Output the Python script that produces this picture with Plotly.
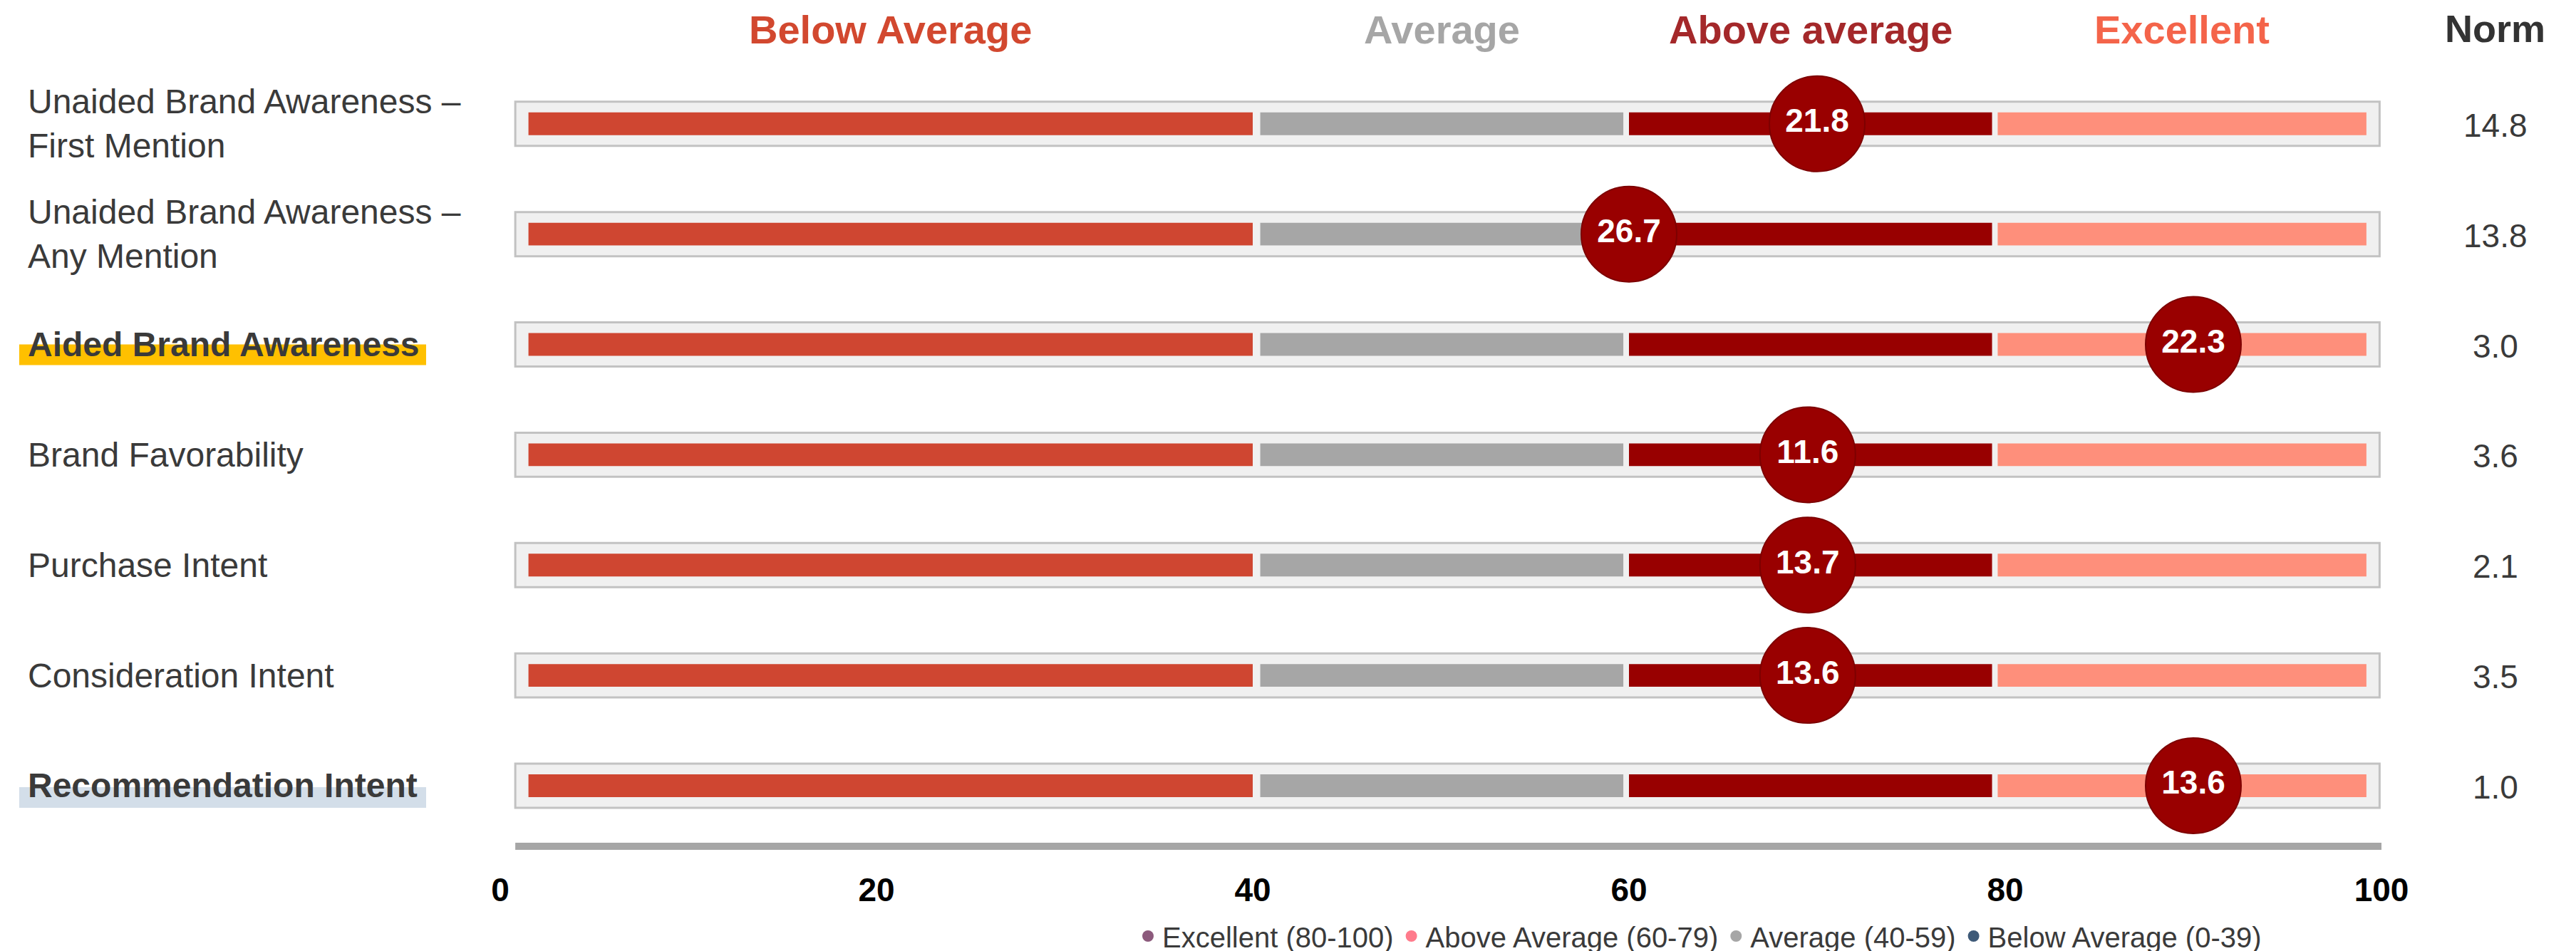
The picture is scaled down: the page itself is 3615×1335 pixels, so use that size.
import plotly.graph_objects as go

# ---------------- data ----------------
metrics = [
    "Unaided Brand Awareness –<br>First Mention",
    "Unaided Brand Awareness –<br>Any Mention",
    "<b>Aided Brand Awareness</b>",
    "Brand Favorability",
    "Purchase Intent",
    "Consideration Intent",
    "<b>Recommendation Intent</b>",
]
score_position = [70, 60, 90, 69.5, 69.5, 69.5, 90]      # position on 0-100 scale
score_label = ["21.8", "26.7", "22.3", "11.6", "13.7", "13.6", "13.6"]
norm_values = ["14.8", "13.8", "3.0", "3.6", "2.1", "3.5", "1.0"]

band_names = ["Below Average", "Average", "Above average", "Excellent"]
band_start = [1.5, 40.4, 60.0, 79.6]
band_end = [40.0, 59.7, 79.3, 99.2]
box_start, box_end = 0.8, 99.9

tick_values = [0, 20, 40, 60, 80, 100]

legend_names = ["Excellent (80-100)", "Above Average (60-79)", "Average (40-59)", "Below Average (0-39)"]

# ---------------- styles ----------------
FONT = "Liberation Sans, Arial, Helvetica, sans-serif"
band_colors = ["#cf4631", "#a6a6a6", "#980000", "#fe8f7b"]
header_colors = ["#d2482f", "#a6a6a6", "#a4282a", "#f4644a"]
legend_colors = ["#8c5a7c", "#ff7b8c", "#a6a6a6", "#3e5a78"]
bubble_color = "#990000"
text_dark = "#3a3a3a"

W, H = 3615, 1335
M = dict(l=694, r=281, t=52, b=155)
plot_h = H - M["t"] - M["b"]
top_of_figure = 1 + M["t"] / plot_h   # paper coordinate of the figure's top edge

rows = list(range(len(metrics)))
n = len(rows)

fig = go.Figure()

# background boxes
fig.add_trace(go.Bar(
    y=rows, x=[box_end - box_start] * n, base=[box_start] * n,
    orientation="h", width=0.40,
    marker=dict(color="#f0f0f0", line=dict(color="#c2c2c2", width=3)),
    showlegend=False, hoverinfo="skip", cliponaxis=False,
))

# colored band segments
for name, s, e, c in zip(band_names, band_start, band_end, band_colors):
    fig.add_trace(go.Bar(
        y=rows, x=[e - s] * n, base=[s] * n, orientation="h", width=0.206,
        marker=dict(color=c, line=dict(width=0)),
        showlegend=False, hoverinfo="skip", name=name, cliponaxis=False,
    ))

# bubbles
fig.add_trace(go.Scatter(
    x=score_position, y=rows, mode="markers+text",
    marker=dict(size=134, color=bubble_color, line=dict(color="#7d0000", width=2)),
    text=score_label, textposition="middle center",
    textfont=dict(family=FONT, size=46, color="white", weight="bold"),
    showlegend=False, hoverinfo="skip", cliponaxis=False,
))

# legend entries
for name, c in zip(legend_names, legend_colors):
    fig.add_trace(go.Scatter(
        x=[None], y=[None], mode="markers", name=name,
        marker=dict(size=17, color=c), showlegend=True,
    ))

annotations = []
# band headers
for name, s, e, c in zip(band_names, band_start, band_end, header_colors):
    annotations.append(dict(
        x=(s + e) / 2, xref="x", y=top_of_figure, yref="paper",
        text=f"<b>{name}</b>", showarrow=False, xanchor="center", yanchor="top",
        font=dict(family=FONT, size=56, color=c),
    ))
# Norm header
annotations.append(dict(
    x=1.0606, xref="paper", y=top_of_figure, yref="paper", text="<b>Norm</b>",
    showarrow=False, xanchor="center", yanchor="top",
    font=dict(family=FONT, size=54, color="#333333"),
))
# norm values
for r, v in zip(rows, norm_values):
    annotations.append(dict(
        x=1.0606, xref="paper", y=r, yref="y", text=v, showarrow=False,
        xanchor="center", yanchor="middle", yshift=-2,
        font=dict(family=FONT, size=46, color=text_dark),
    ))
# row labels
for r, lab in zip(rows, metrics):
    annotations.append(dict(
        x=-0.2519, xref="paper", y=r, yref="y", text=lab, showarrow=False,
        xanchor="left", yanchor="middle", align="left",
        font=dict(family=FONT, size=48, color=text_dark),
    ))

shapes = [
    # axis bar
    dict(type="line", xref="x", yref="paper", x0=box_start, x1=100, y0=0, y1=0,
         line=dict(color="#a6a6a6", width=10), layer="above"),
    # highlights
    dict(type="rect", xref="paper", yref="y", ysizemode="pixel", yanchor=2,
         x0=-0.2557, x1=-0.0394, y0=0, y1=-29, fillcolor="#ffc000",
         line=dict(width=0), layer="below"),
    dict(type="rect", xref="paper", yref="y", ysizemode="pixel", yanchor=6,
         x0=-0.2557, x1=-0.0394, y0=-2, y1=-31, fillcolor="#d3dee9",
         line=dict(width=0), layer="below"),
]

fig.update_layout(
    width=W, height=H,
    margin=dict(**M, autoexpand=False),
    paper_bgcolor="white", plot_bgcolor="white",
    barmode="overlay",
    annotations=annotations, shapes=shapes,
    xaxis=dict(range=[0, 100], tickvals=tick_values, showgrid=False, zeroline=False,
               showline=False, ticks="", ticklabelstandoff=30,
               tickfont=dict(family=FONT, size=46, color="black", weight="bold")),
    yaxis=dict(range=[6.549, -0.7348], showgrid=False, zeroline=False, showline=False,
               showticklabels=False, ticks=""),
    legend=dict(orientation="h", x=0.6375, xanchor="center", y=-0.1117, yanchor="middle",
                font=dict(family=FONT, size=40, color=text_dark),
                itemwidth=30, tracegroupgap=0, bgcolor="rgba(0,0,0,0)"),
    font=dict(family=FONT),
)

fig.write_html("out.html")
